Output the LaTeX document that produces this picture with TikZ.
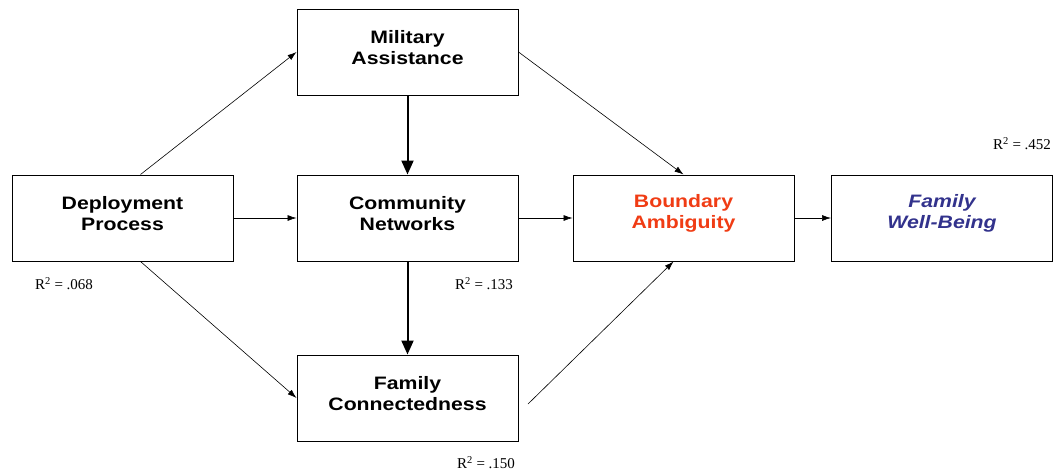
\documentclass[tikz,border=0pt]{standalone}
\usepackage{fontspec}
\setmainfont{Liberation Serif}
\setsansfont{Liberation Sans}[FakeStretch=1.18]
\usetikzlibrary{arrows.meta}
\definecolor{bred}{RGB}{240,60,20}
\definecolor{fblue}{RGB}{50,50,140}
\begin{document}
\begin{tikzpicture}[x=1pt,y=-1pt,
  box/.style={draw, line width=1pt, minimum width=221pt, minimum height=86pt, inner sep=0pt},
  lbl/.style={align=center, font=\sffamily\bfseries\fontsize{18}{21}\selectfont, inner sep=0pt},
  thin/.style={-{Latex[length=9pt,width=6pt]}, line width=0.6pt},
  thick/.style={-{Triangle[length=14pt,width=12pt]}, line width=2pt},
  rlab/.style={font=\fontsize{15}{17}\selectfont, inner sep=0pt}]
\useasboundingbox (0,0) rectangle (1058,472);
\node[box] (mil) at (407.5,52) {};
\node[box] (dep) at (122.5,218) {};
\node[box] (com) at (407.5,218) {};
\node[box] (bnd) at (683.5,218) {};
\node[box] (fwb) at (942,218) {};
\node[box] (fam) at (407.5,398) {};
\node[lbl] (milt) at ([yshift=4.5pt]mil.center) {Military\\Assistance};
\node[lbl] (dept) at ([yshift=4.5pt]dep.center) {Deployment\\Process};
\node[lbl] (comt) at ([yshift=4.5pt]com.center) {Community\\Networks};
\node[lbl, text=bred] (bndt) at ([yshift=4.5pt]bnd.center) {Boundary\\Ambiguity};
\node[lbl, text=fblue, font=\sffamily\bfseries\itshape\fontsize{18}{21}\selectfont] (fwbt) at ([yshift=4.5pt]fwb.center) {Family\\Well-Being};
\node[lbl] (famt) at ([yshift=4.5pt]fam.center) {Family\\Connectedness};
\coordinate (famout) at (528,404);
\draw[thin] ([xshift=18pt]dep.north) -- (mil.west);
\draw[thin] (dep.east) -- (com.west);
\draw[thin] ([xshift=18pt]dep.south) -- (fam.west);
\draw[thick] (mil.south) -- (com.north);
\draw[thick] (com.south) -- (fam.north);
\draw[thin] (mil.east) -- (bnd.north);
\draw[thin] (com.east) -- (bnd.west);
\draw[thin] (famout) -- ([xshift=-10pt]bnd.south);
\draw[thin] (bnd.east) -- (fwb.west);
\node[rlab] (r1) at (64,284) {R\textsuperscript{2} = .068};
\node[rlab] (r2) at (484,284) {R\textsuperscript{2} = .133};
\node[rlab] (r3) at (486,463) {R\textsuperscript{2} = .150};
\node[rlab] (r4) at (1022,144) {R\textsuperscript{2} = .452};
\end{tikzpicture}
\end{document}
